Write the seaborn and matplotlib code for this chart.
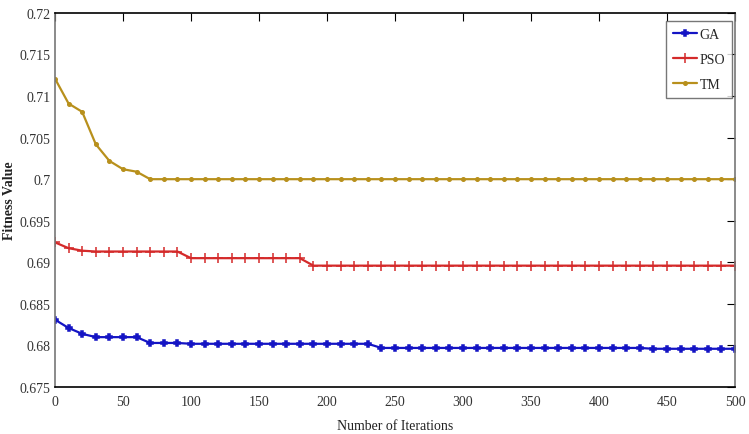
import matplotlib
matplotlib.use("Agg")
import matplotlib.pyplot as plt
import seaborn as sns
import pandas as pd

iterations = list(range(0, 501, 10))

ga = [0.6831, 0.6821, 0.6814, 0.6810, 0.6810, 0.6810, 0.6810, 0.6803, 0.6803, 0.6803,
      0.6802, 0.6802, 0.6802, 0.6802, 0.6802, 0.6802, 0.6802, 0.6802, 0.6802, 0.6802,
      0.6802, 0.6802, 0.6802, 0.6802, 0.6797, 0.6797, 0.6797, 0.6797, 0.6797, 0.6797,
      0.6797, 0.6797, 0.6797, 0.6797, 0.6797, 0.6797, 0.6797, 0.6797, 0.6797, 0.6797,
      0.6797, 0.6797, 0.6797, 0.6797, 0.6796, 0.6796, 0.6796, 0.6796, 0.6796, 0.6796,
      0.6796]
pso = [0.6924, 0.6917, 0.6914, 0.6913, 0.6913, 0.6913, 0.6913, 0.6913, 0.6913, 0.6913,
       0.6905, 0.6905, 0.6905, 0.6905, 0.6905, 0.6905, 0.6905, 0.6905, 0.6905, 0.6896,
       0.6896, 0.6896, 0.6896, 0.6896, 0.6896, 0.6896, 0.6896, 0.6896, 0.6896, 0.6896,
       0.6896, 0.6896, 0.6896, 0.6896, 0.6896, 0.6896, 0.6896, 0.6896, 0.6896, 0.6896,
       0.6896, 0.6896, 0.6896, 0.6896, 0.6896, 0.6896, 0.6896, 0.6896, 0.6896, 0.6896,
       0.6896]
tm = [0.7121, 0.7091, 0.7081, 0.7042, 0.7022, 0.7012, 0.7009, 0.7000, 0.7000, 0.7000,
      0.7000, 0.7000, 0.7000, 0.7000, 0.7000, 0.7000, 0.7000, 0.7000, 0.7000, 0.7000,
      0.7000, 0.7000, 0.7000, 0.7000, 0.7000, 0.7000, 0.7000, 0.7000, 0.7000, 0.7000,
      0.7000, 0.7000, 0.7000, 0.7000, 0.7000, 0.7000, 0.7000, 0.7000, 0.7000, 0.7000,
      0.7000, 0.7000, 0.7000, 0.7000, 0.7000, 0.7000, 0.7000, 0.7000, 0.7000, 0.7000,
      0.7000]

series_names = ["GA", "PSO", "TM"]
colors = {"GA": "#1414c4", "PSO": "#d42a2a", "TM": "#b8901c"}
markers = {"GA": "P", "PSO": "+", "TM": "."}
msizes = {"GA": 5, "PSO": 7, "TM": 5}
xticks = [0, 50, 100, 150, 200, 250, 300, 350, 400, 450, 500]
yticks = [0.675, 0.68, 0.685, 0.69, 0.695, 0.7, 0.705, 0.71, 0.715, 0.72]
ytick_labels = ["0.675", "0.68", "0.685", "0.69", "0.695", "0.7", "0.705", "0.71", "0.715", "0.72"]

df = pd.DataFrame({
    "Iteration": iterations * 3,
    "Fitness": ga + pso + tm,
    "Method": ["GA"] * len(ga) + ["PSO"] * len(pso) + ["TM"] * len(tm),
})

sns.set_style("white")
plt.rcParams["font.family"] = ["Liberation Serif", "DejaVu Serif"]

fig = plt.figure(figsize=(7.49, 4.35), dpi=100)
ax = fig.add_axes([0.0734, 0.108, 0.908, 0.860])

for name in series_names:
    sub = df[df["Method"] == name]
    sns.lineplot(data=sub, x="Iteration", y="Fitness", ax=ax, color=colors[name],
                 marker=markers[name], markersize=msizes[name], linewidth=1.6,
                 markeredgewidth=1.1, markeredgecolor=colors[name], label=name,
                 estimator=None, sort=False)

ax.set_xlim(0, 500)
ax.set_ylim(0.675, 0.72)
ax.set_xticks(xticks)
ax.set_xticklabels([str(t) for t in xticks])
ax.set_yticks(yticks)
ax.set_yticklabels(ytick_labels)
ax.tick_params(direction="in", length=6, width=0.8, top=True, right=True,
               labelsize=10, colors="black", pad=3)
ax.tick_params(axis="x", labelcolor="#333333", pad=6)
ax.tick_params(axis="y", labelcolor="#333333")

for side in ["top", "bottom"]:
    ax.spines[side].set_color("black")
    ax.spines[side].set_linewidth(1.2)
for side in ["left", "right"]:
    ax.spines[side].set_color("#777777")
    ax.spines[side].set_linewidth(1.2)

ax.set_xlabel("Number of Iterations", fontsize=10, color="#222222")
ax.set_ylabel("Fitness Value", fontsize=10, fontweight="bold", color="#222222")
ax.xaxis.set_label_coords(0.5, -0.085)
ax.yaxis.set_label_coords(-0.058, 0.5)

leg = ax.legend(loc="upper right", bbox_to_anchor=(0.996, 0.978), fontsize=10,
                frameon=True, fancybox=False, edgecolor="#555555",
                handlelength=1.7, handletextpad=0.2, borderpad=0.5,
                labelspacing=0.85, borderaxespad=0.0)
leg.get_frame().set_linewidth(1.0)

fig.savefig("out.png", dpi=100, facecolor="white")
